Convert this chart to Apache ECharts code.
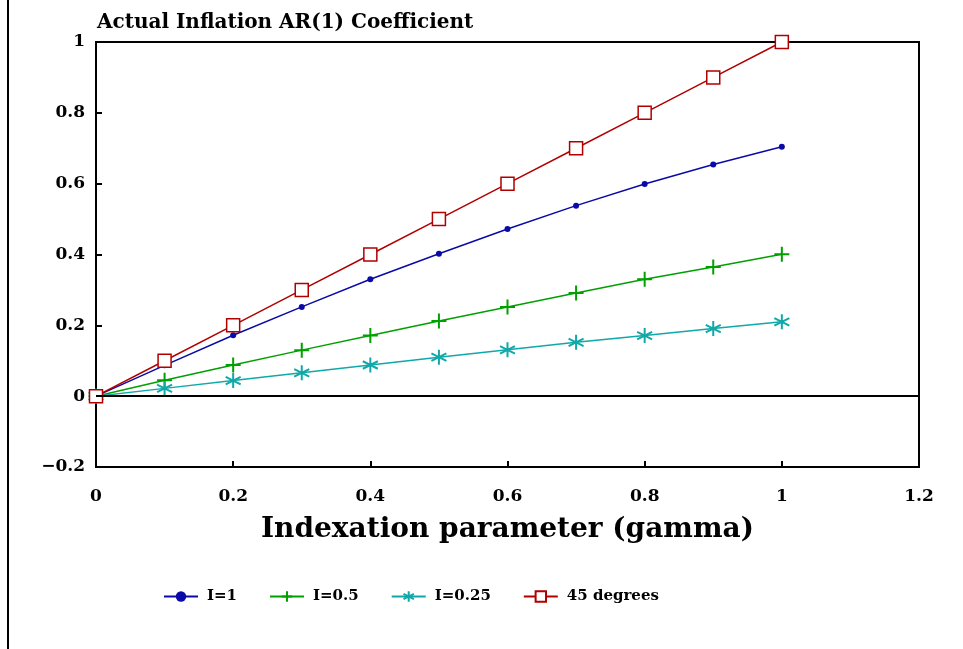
<!DOCTYPE html>
<html><head><meta charset="utf-8">
<script src="https://cdn.jsdelivr.net/npm/echarts@6/dist/echarts.min.js"></script>
<style>html,body{margin:0;padding:0;background:#fff}#c{width:963px;height:649px}</style>
</head><body><div id="c"></div>
<script>
const gammaValues = [0, 0.1, 0.2, 0.3, 0.4, 0.5, 0.6, 0.7, 0.8, 0.9, 1];
const seriesI1 = [0, 0.087, 0.172, 0.252, 0.330, 0.402, 0.472, 0.538, 0.599, 0.654, 0.704];
const seriesI05 = [0, 0.045, 0.088, 0.130, 0.171, 0.212, 0.252, 0.291, 0.330, 0.365, 0.401];
const seriesI025 = [0, 0.022, 0.044, 0.066, 0.088, 0.110, 0.131, 0.152, 0.171, 0.191, 0.210];
const series45 = [0, 0.1, 0.2, 0.3, 0.4, 0.5, 0.6, 0.7, 0.8, 0.9, 1.0];
const seriesNames = ['I=1', 'I=0.5', 'I=0.25', '45 degrees'];
const titleText = 'Actual Inflation AR(1) Coefficient';
const xAxisName = 'Indexation parameter (gamma)';

const FONT = '"DejaVu Serif", serif';
const pair = arr => gammaValues.map((g, i) => [g, arr[i]]);
const plusPath = 'path://M0,-10L0,10M-10,0L10,0';
const starPath = 'path://M0,-10L0,10M-8.66,-5L8.66,5M-8.66,5L8.66,-5';

const chart = echarts.init(document.getElementById('c'));
chart.setOption({
  animation: false,
  backgroundColor: '#fff',
  title: {
    text: titleText, left: 92, top: 8,
    textStyle: {fontFamily: FONT, fontWeight: 'bold', fontSize: 20, color: '#000'}
  },
  graphic: [{
    type: 'line', shape: {x1: 8, y1: 0, x2: 8, y2: 649},
    style: {stroke: '#000', lineWidth: 2}
  }],
  legend: {
    bottom: 40, left: 158, itemWidth: 34, itemHeight: 13, itemGap: 32,
    textStyle: {fontFamily: FONT, fontWeight: 'bold', fontSize: 15, color: '#000', padding: [0, 0, 0, 4]},
    data: seriesNames
  },
  grid: {
    left: 96, right: 44, top: 42, bottom: 182,
    show: true, borderColor: '#000', borderWidth: 2, backgroundColor: 'transparent'
  },
  xAxis: {
    type: 'value', min: 0, max: 1.2, interval: 0.2,
    name: xAxisName, nameLocation: 'middle', nameGap: 49,
    nameTextStyle: {fontFamily: FONT, fontWeight: 'bold', fontSize: 28, color: '#000'},
    axisLine: {onZero: false, lineStyle: {color: '#000', width: 2}},
    axisTick: {inside: true, length: 6, lineStyle: {color: '#000', width: 2}},
    splitLine: {show: false},
    axisLabel: {margin: 21, fontFamily: FONT, fontWeight: 'bold', fontSize: 17, color: '#000',
      formatter: v => String(+v.toFixed(1))}
  },
  yAxis: {
    type: 'value', min: -0.2, max: 1, interval: 0.2,
    axisLine: {lineStyle: {color: '#000', width: 2}},
    axisTick: {inside: true, length: 6, lineStyle: {color: '#000', width: 2}},
    splitLine: {show: false},
    axisLabel: {margin: 11, fontFamily: FONT, fontWeight: 'bold', fontSize: 17, color: '#000',
      formatter: v => { const s = String(+v.toFixed(1)); return s.replace('-', '\u2212'); }}
  },
  series: [
    {
      name: seriesNames[0], type: 'line', data: pair(seriesI1),
      symbol: 'circle', symbolSize: 6, color: '#0a0aa8',
      lineStyle: {width: 1.5, color: '#0a0aa8'}, itemStyle: {color: '#0a0aa8'}, z: 3,
      markLine: {
        silent: true, symbol: 'none', label: {show: false},
        lineStyle: {color: '#000', width: 2, type: 'solid'},
        data: [{yAxis: 0}]
      }
    },
    {
      name: seriesNames[1], type: 'line', data: pair(seriesI05),
      symbol: plusPath, symbolSize: 15, color: '#00a000',
      lineStyle: {width: 1.5, color: '#00a000'},
      itemStyle: {color: '#00a000', borderColor: '#00a000', borderWidth: 2}, z: 3
    },
    {
      name: seriesNames[2], type: 'line', data: pair(seriesI025),
      symbol: starPath, symbolSize: 15, color: '#10a8a8',
      lineStyle: {width: 1.5, color: '#10a8a8'},
      itemStyle: {color: '#10a8a8', borderColor: '#10a8a8', borderWidth: 2}, z: 3
    },
    {
      name: seriesNames[3], type: 'line', data: pair(series45),
      symbol: 'rect', symbolSize: 13, color: '#b00000',
      lineStyle: {width: 1.5, color: '#b00000'},
      itemStyle: {color: '#ffffff', borderColor: '#b00000', borderWidth: 1.5}, z: 4
    }
  ]
});
</script></body></html>
